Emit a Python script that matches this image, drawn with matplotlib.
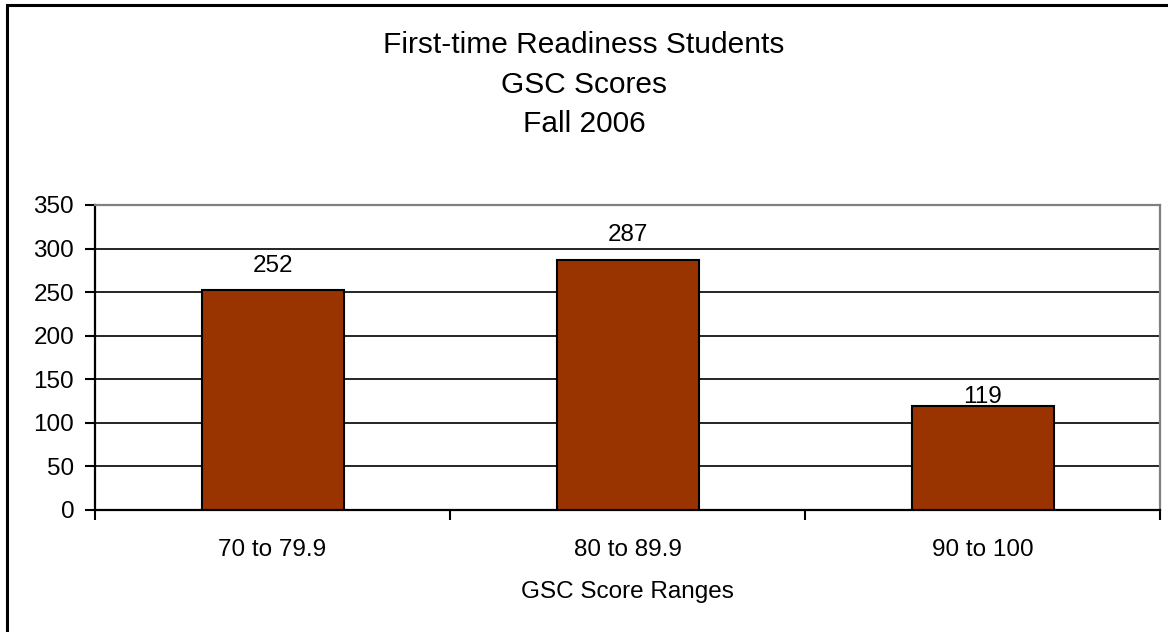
import matplotlib.pyplot as plt
import matplotlib.patches as patches
import numpy as np

plt.rcParams['font.family'] = ['Liberation Sans', 'DejaVu Sans']

ranges = ['70 to 79.9', '80 to 89.9', '90 to 100']
students = [252, 287, 119]
label_pad = [10, 10, -1]  # points above bar top, as placed in the original

fig = plt.figure(figsize=(11.68, 6.32), dpi=100)
# outer chart border (runs off right/bottom edge in the original)
fig.patches.append(patches.Rectangle((7/1168, -0.05), 1.2, (632-4.5)/632 + 0.05,
                                     transform=fig.transFigure, fill=False,
                                     edgecolor='black', linewidth=2.2))

ax = fig.add_axes([95/1168, 122/632, 1065/1168, 305/632])
x = np.arange(len(ranges))
bars = ax.bar(x, students, width=0.40, color='#993300', edgecolor='black',
              linewidth=1.5, zorder=3)

for b, v, p in zip(bars, students, label_pad):
    ax.annotate(str(v), (b.get_x() + b.get_width()/2, v), xytext=(0, p),
                textcoords='offset points', ha='center', va='bottom', fontsize=17.5)

ax.set_xlim(-0.5, len(ranges) - 0.5)
ax.set_ylim(0, 350)
ax.set_yticks(np.arange(0, 351, 50))
ax.yaxis.grid(True, color='black', linewidth=1.2, zorder=0)
ax.set_axisbelow(True)

ax.set_xticks(x)
ax.set_xticklabels(ranges, fontsize=17.5)
ax.set_xticks(np.arange(-0.5, len(ranges)), minor=True)
ax.tick_params(axis='x', which='major', length=0, pad=21)
ax.tick_params(axis='x', which='minor', length=7, width=1.5, direction='out')
ax.tick_params(axis='y', labelsize=17.5, length=7, width=1.5, direction='out', pad=8)

for s in ['left', 'bottom']:
    ax.spines[s].set_linewidth(1.6)
for s in ['top', 'right']:
    ax.spines[s].set_color('#808080')
    ax.spines[s].set_linewidth(1.6)

ax.set_xlabel('GSC Score Ranges', fontsize=17.5, labelpad=14)

fig.text(0.5, 1 - 45/632, 'First-time Readiness Students', ha='center', va='center', fontsize=21.5)
fig.text(0.5, 1 - 85/632, 'GSC Scores', ha='center', va='center', fontsize=21.5)
fig.text(0.5, 1 - 124/632, 'Fall 2006', ha='center', va='center', fontsize=21.5)

fig.savefig('out.png', dpi=100)
